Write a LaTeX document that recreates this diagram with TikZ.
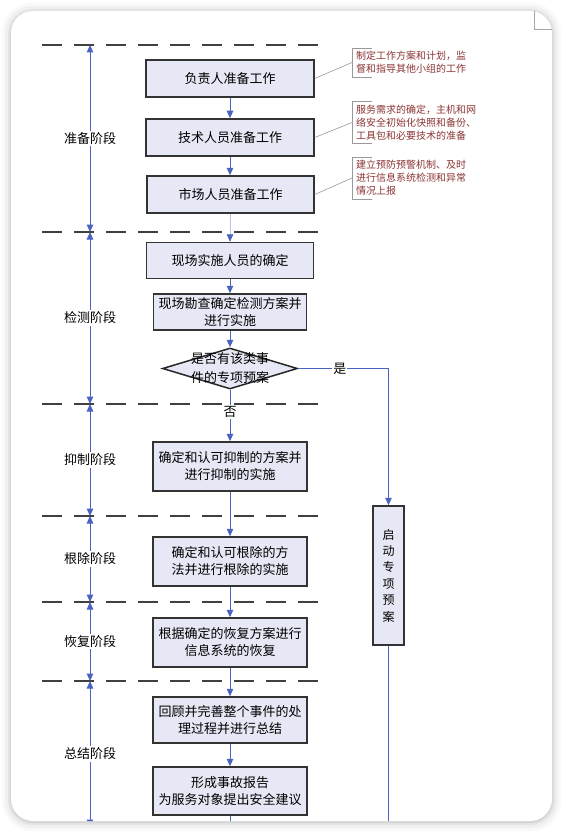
\documentclass[tikz,border=0pt]{standalone}
\usepackage{fontspec}
\setmainfont{Noto Sans CJK SC}
\usetikzlibrary{shapes.geometric, arrows.meta, positioning, calc}
\definecolor{flowblue}{RGB}{74,98,192}
\definecolor{boxfill}{RGB}{230,233,245}
\definecolor{notered}{RGB}{140,52,52}
\definecolor{phasegray}{RGB}{64,64,64}

\begin{document}
\begin{tikzpicture}[x=1pt, y=-1pt,
    >={Triangle[length=7.5pt, width=6.5pt]},
    taskbox/.style={draw=black!80, line width=1.5pt, fill=boxfill, inner sep=2pt, align=center, font=\fontsize{13}{17}\selectfont},
    flowline/.style={->, draw=flowblue, line width=1pt},
    phaseline/.style={draw=phasegray, line width=1.8pt, dash pattern=on 20pt off 12pt},
    stagearrow/.style={<->, draw=flowblue, line width=1pt},
    stagelabel/.style={fill=white, inner sep=1.5pt, font=\fontsize{13}{15}\selectfont},
    notetext/.style={anchor=west, align=left, inner xsep=4pt, inner ysep=3pt, text=notered, font=\fontsize{10}{13}\selectfont},
    noteline/.style={draw=black!40, line width=0.6pt}]

    % Page card
    \useasboundingbox (0,0) rectangle (563,832);
    \fill[white] (0,0) rectangle (563,832);
    \fill[black, opacity=0.025, rounded corners=30pt] (2,3) rectangle (561,831);
    \fill[black, opacity=0.035, rounded corners=27pt] (5,6) rectangle (558,828);
    \fill[black, opacity=0.05, rounded corners=25pt] (8,9) rectangle (555,825);
    \fill[black, opacity=0.06, rounded corners=23pt] (10,11) rectangle (553,823);
    \fill[white, rounded corners=22pt] (11,11) rectangle (552,821);
    \draw[black!35, line width=0.8pt] (534,11) -- (534,29) -- (552,29);

    \begin{scope}
    \clip[rounded corners=22pt] (11,11) rectangle (552,821);

    % Phase boundaries
    \draw[phaseline] (42,45) -- (318,45);
    \draw[phaseline] (42,232) -- (318,232);
    \draw[phaseline] (42,404) -- (318,404);
    \draw[phaseline] (42,516) -- (318,516);
    \draw[phaseline] (42,602) -- (318,602);
    \draw[phaseline] (42,681) -- (318,681);

    % Stages
    \coordinate (p0) at (90,45);
    \coordinate (p1) at (90,232);
    \coordinate (p2) at (90,404);
    \coordinate (p3) at (90,516);
    \coordinate (p4) at (90,602);
    \coordinate (p5) at (90,681);
    \coordinate (p6) at (90,827);
    \draw[stagearrow] (p0) -- (p1) node[midway, stagelabel] (prep) {准备阶段};
    \draw[stagearrow] (p1) -- (p2) node[midway, stagelabel] (detect) {检测阶段};
    \draw[stagearrow] (p2) -- (p3) node[midway, stagelabel] (suppress) {抑制阶段};
    \draw[stagearrow] (p3) -- (p4) node[midway, stagelabel] (remove) {根除阶段};
    \draw[stagearrow] (p4) -- (p5) node[midway, stagelabel] (restore) {恢复阶段};
    \draw[stagearrow] (p5) -- (p6) node[midway, stagelabel] (summary) {总结阶段};

    % Main flow
    \node[taskbox, minimum width=168pt, minimum height=37pt] (lead) at (230,78.5) {负责人准备工作};
    \node[taskbox, minimum width=168pt, minimum height=37pt] (tech) at (230,137.5) {技术人员准备工作};
    \node[taskbox, minimum width=167pt, minimum height=37pt] (market) at (230.5,194.5) {市场人员准备工作};
    \node[taskbox, minimum width=167pt, minimum height=36pt] (staff) at (230,260.5) {现场实施人员的确定};
    \node[taskbox, minimum width=153pt, minimum height=36pt] (survey) at (230,312) {现场勘查确定检测方案并\\进行实施};
    \node[draw=black!85, line width=1.5pt, fill=boxfill, diamond, minimum width=135pt, minimum height=41pt, inner sep=0pt] (check) at (230,368.5) {};
    \node[align=center, font=\fontsize{13}{19}\selectfont] (checktext) at (check.center) {是否有该类事\\件的专项预案};
    \node[taskbox, minimum width=154pt, minimum height=49pt] (contain) at (230,466.5) {确定和认可抑制的方案并\\进行抑制的实施};
    \node[taskbox, minimum width=154pt, minimum height=49pt] (eradicate) at (230,561.5) {确定和认可根除的方\\法并进行根除的实施};
    \node[taskbox, minimum width=154pt, minimum height=49pt] (recover) at (230,642.5) {根据确定的恢复方案进行\\信息系统的恢复};
    \node[taskbox, minimum width=154pt, minimum height=46pt] (review) at (230,720) {回顾并完善整个事件的处\\理过程并进行总结};
    \node[taskbox, minimum width=154pt, minimum height=48pt] (report) at (230,791) {形成事故报告\\为服务对象提出安全建议};
    \node[taskbox, minimum width=31pt, minimum height=139pt, text width=12pt, font=\fontsize{12}{16.4}\selectfont] (plan) at (388.5,575.5) {启\\动\\专\\项\\预\\案};
    \coordinate (flowend) at (230,832);
    \coordinate (planend) at (388.5,832);

    \draw[flowline] (lead) -- (tech);
    \draw[flowline] (tech) -- (market.north -| tech);
    \draw[flowline, draw=flowblue!40, line width=0.6pt, -{Triangle[length=7.5pt, width=6.5pt, color=flowblue]}] (market.south -| staff) -- (staff);
    \draw[flowline] (staff) -- (survey);
    \draw[flowline] (survey) -- (check);
    \draw[flowline] (check) -- (contain) node[pos=0.43, fill=white, inner sep=1pt, font=\fontsize{13}{15}\selectfont] (no) {否};
    \draw[flowline] (contain) -- (eradicate);
    \draw[flowline] (eradicate) -- (recover);
    \draw[flowline] (recover) -- (review);
    \draw[flowline] (review) -- (report);
    \draw[flowline, -] (report) -- (flowend);
    \draw[flowline] (check) -| (plan) node[pos=0.23, fill=white, inner sep=1pt, font=\fontsize{13}{15}\selectfont] (yes) {是};
    \draw[flowline, -] (plan) -- (planend);

    % Notes
    \node[notetext] (note1) at (352,62.5) {制定工作方案和计划，监\\督和指导其他小组的工作};
    \node[notetext] (note2) at (352,122.5) {服务需求的确定，主机和网\\络安全初始化快照和备份、\\工具包和必要技术的准备};
    \node[notetext] (note3) at (352,178) {建立预防预警机制、及时\\进行信息系统检测和异常\\情况上报};
    \draw[noteline] ([xshift=20pt]note1.north west) -- (note1.north west) -- (note1.south west) -- ([xshift=20pt]note1.south west);
    \draw[noteline] ([xshift=20pt]note2.north west) -- (note2.north west) -- (note2.south west) -- ([xshift=20pt]note2.south west);
    \draw[noteline] ([xshift=20pt]note3.north west) -- (note3.north west) -- (note3.south west) -- ([xshift=20pt]note3.south west);
    \draw[noteline] (lead.east) -- (note1.west);
    \draw[noteline] (tech.east) -- (note2.west);
    \draw[noteline] (market.east) -- (note3.west);
    \end{scope}
\end{tikzpicture}
\end{document}
